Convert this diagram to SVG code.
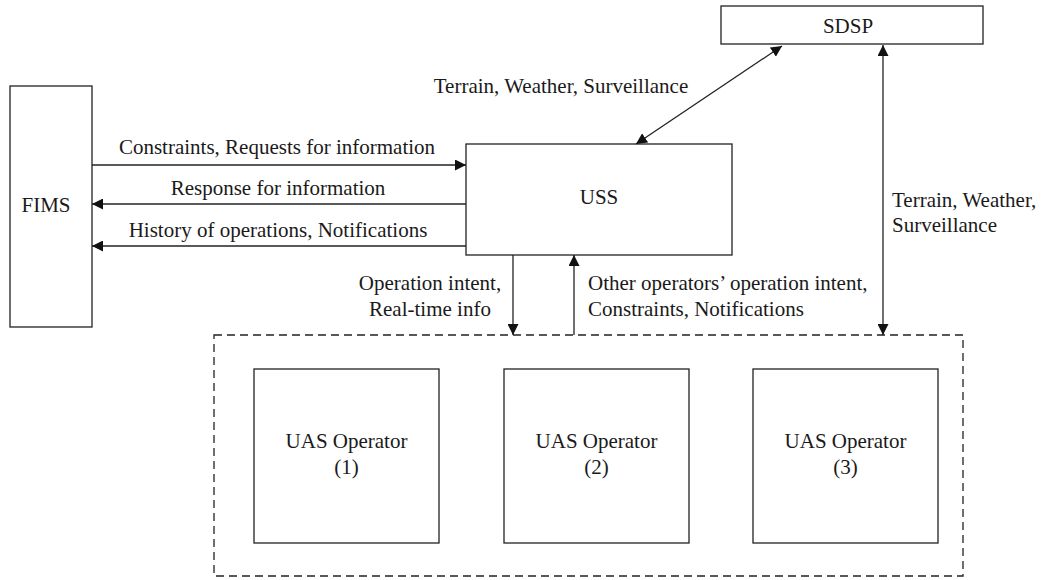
<svg xmlns="http://www.w3.org/2000/svg" width="1041" height="580" viewBox="0 0 1041 580">
  <style>
    .box { fill: #fff; stroke: #222; stroke-width: 1.3; }
    .group { fill: none; stroke: #222; stroke-width: 1.3; stroke-dasharray: 8 5; }
    .link { fill: none; stroke: #222; stroke-width: 1.3; }
    text { font-family: "Liberation Serif", "DejaVu Serif", serif; font-size: 21px; fill: #1a1a1a; }
    .c { text-anchor: middle; }
  </style>
  <defs>
    <marker id="arrow" viewBox="0 0 11 11" refX="11" refY="5.5" markerWidth="11" markerHeight="11" markerUnits="userSpaceOnUse" orient="auto-start-reverse">
      <path d="M0,0 L11,5.5 L0,11 Z" fill="#111"/>
    </marker>
  </defs>

  <rect width="1041" height="580" fill="#fff"/>

  <g id="fims">
    <rect class="box" x="10" y="86" width="82" height="241"/>
    <text class="c" x="46" y="212">FIMS</text>
  </g>

  <g id="uss">
    <rect class="box" x="466" y="144" width="266" height="111"/>
    <text class="c" x="599" y="204">USS</text>
  </g>

  <g id="sdsp">
    <rect class="box" x="721" y="6" width="262" height="38"/>
    <text class="c" x="848" y="33">SDSP</text>
  </g>

  <g id="operators">
    <rect class="group" x="214" y="335" width="749" height="241"/>
  </g>

  <g id="uas-operator-1">
    <rect class="box" x="254" y="369" width="185" height="174"/>
    <text class="c" x="346.5" y="448">UAS Operator</text>
    <text class="c" x="346.5" y="474">(1)</text>
  </g>

  <g id="uas-operator-2">
    <rect class="box" x="504" y="369" width="185" height="174"/>
    <text class="c" x="596.5" y="448">UAS Operator</text>
    <text class="c" x="596.5" y="474">(2)</text>
  </g>

  <g id="uas-operator-3">
    <rect class="box" x="753" y="369" width="185" height="174"/>
    <text class="c" x="845.5" y="448">UAS Operator</text>
    <text class="c" x="845.5" y="474">(3)</text>
  </g>

  <g id="connectors">
    <line class="link" x1="92" y1="165" x2="466" y2="165" marker-end="url(#arrow)"/>
    <line class="link" x1="466" y1="204" x2="92" y2="204" marker-end="url(#arrow)"/>
    <line class="link" x1="466" y1="246" x2="92" y2="246" marker-end="url(#arrow)"/>
    <line class="link" x1="636" y1="144" x2="782" y2="46" marker-start="url(#arrow)" marker-end="url(#arrow)"/>
    <line class="link" x1="883" y1="45" x2="883" y2="335" marker-start="url(#arrow)" marker-end="url(#arrow)"/>
    <line class="link" x1="513" y1="255" x2="513" y2="335" marker-end="url(#arrow)"/>
    <line class="link" x1="574" y1="335" x2="574" y2="255" marker-end="url(#arrow)"/>
  </g>

  <g id="labels">
    <text class="c" x="277" y="154">Constraints, Requests for information</text>
    <text class="c" x="278" y="195">Response for information</text>
    <text class="c" x="278" y="237">History of operations, Notifications</text>
    <text class="c" x="561" y="93">Terrain, Weather, Surveillance</text>
    <text x="892" y="207">Terrain, Weather,</text>
    <text x="892" y="232">Surveillance</text>
    <text class="c" x="430" y="290">Operation intent,</text>
    <text class="c" x="430" y="316">Real-time info</text>
    <text x="588" y="290">Other operators’ operation intent,</text>
    <text x="588" y="316">Constraints, Notifications</text>
  </g>
</svg>
